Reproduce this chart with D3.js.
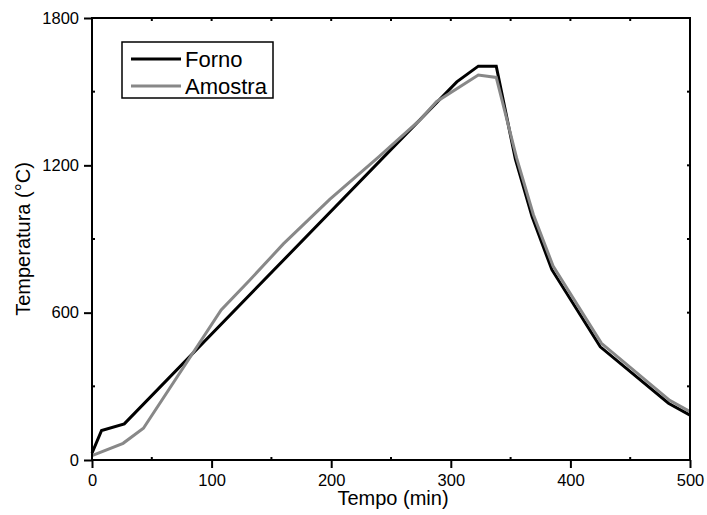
<!DOCTYPE html>
<html>
<head>
<meta charset="utf-8">
<script src="https://cdn.jsdelivr.net/npm/d3@7"></script>
<style>
  body { margin: 0; background: #fff; }
  text { font-family: "Liberation Sans", Arial, sans-serif; fill: #000; }
</style>
</head>
<body>
<div id="viz"></div>
<script>
// data
let fornoTime = [0, 8, 27, 305, 323, 338, 354, 368, 384.5, 425, 482, 500]
let fornoTemp = [28, 120, 147, 1540, 1604, 1604, 1225, 990, 775, 461, 231, 183]

let amostraTime = [0, 26, 43, 108, 132, 160, 199, 240, 274, 288, 323, 338, 355, 369, 385.5, 426, 483, 500]
let amostraTemp = [18, 68, 129, 611, 733, 880, 1062, 1235, 1384, 1459, 1568, 1558, 1230, 1000, 790, 475, 243, 197]

let xTicks = [0, 100, 200, 300, 400, 500]
let yTicks = [0, 600, 1200, 1800]
let seriesNames = ["Forno", "Amostra"]
let seriesColors = ["#000000", "#888888"]

let margin = {left: 92, right: 17, top: 18, bottom: 55}
let W = 707, H = 515
let width = W - margin.left - margin.right
let height = H - margin.top - margin.bottom

let svg = d3.select("#viz").append("svg")
    .attr("width", W).attr("height", H)

let g = svg.append("g")
    .attr("transform", "translate(" + margin.left + "," + margin.top + ")")

let xScale = d3.scaleLinear().domain([0, 500]).range([0, width])
let yScale = d3.scaleLinear().domain([0, 1800]).range([height, 0])

let forno = fornoTime.map((t, i) => ({t: t, v: fornoTemp[i]}))
let amostra = amostraTime.map((t, i) => ({t: t, v: amostraTemp[i]}))

let line = d3.line().x(d => xScale(d.t)).y(d => yScale(d.v))

// lines (forno under amostra where they overlap)
g.append("path").datum(forno)
    .attr("d", line).attr("fill", "none")
    .attr("stroke", seriesColors[0]).attr("stroke-width", 3)
g.append("path").datum(amostra)
    .attr("d", line).attr("fill", "none")
    .attr("stroke", seriesColors[1]).attr("stroke-width", 3)

// axes
let xMinor = d3.range(50, 500, 100)
let yMinor = d3.range(300, 1800, 600)

let xAxis = d3.axisBottom(xScale).tickValues(xTicks).tickFormat(d3.format("d")).tickSize(8).tickPadding(6)
let yAxis = d3.axisLeft(yScale).tickValues(yTicks).tickFormat(d3.format("d")).tickSize(8).tickPadding(5)

let gx = g.append("g").attr("transform", `translate(0,${height})`).call(xAxis)
let gy = g.append("g").call(yAxis)

;[gx, gy].forEach(a => {
    a.select(".domain").remove()
    a.selectAll("line").attr("stroke-width", 2).attr("stroke", "#000")
    a.selectAll("text").style("font-size", "16.5px").attr("fill", "#000")
})

// minor ticks (inward), top and right ticks
let tk = g.append("g").attr("stroke", "#000").attr("stroke-width", 2)
xMinor.forEach(t => {
    tk.append("line").attr("x1", xScale(t)).attr("x2", xScale(t)).attr("y1", height).attr("y2", height - 3)
})
yMinor.forEach(v => {
    tk.append("line").attr("x1", 0).attr("x2", 3).attr("y1", yScale(v)).attr("y2", yScale(v))
})
xTicks.concat(xMinor).forEach(t => {
    tk.append("line").attr("x1", xScale(t)).attr("x2", xScale(t)).attr("y1", 0).attr("y2", 3)
})
yTicks.concat(yMinor).forEach(v => {
    tk.append("line").attr("x1", width).attr("x2", width - 3).attr("y1", yScale(v)).attr("y2", yScale(v))
})

// frame
g.append("rect").attr("width", width).attr("height", height)
    .attr("fill", "none").attr("stroke", "#000").attr("stroke-width", 2)

// axis titles
svg.append("text")
    .attr("x", margin.left + width / 2 + 2).attr("y", 505)
    .attr("text-anchor", "middle").style("font-size", "20px")
    .text("Tempo (min)")

svg.append("text")
    .attr("transform", "translate(30," + (margin.top + height / 2) + ") rotate(-90)")
    .attr("text-anchor", "middle").style("font-size", "20px")
    .text("Temperatura (°C)")

// legend
let lg = svg.append("g")
lg.append("rect").attr("x", 122).attr("y", 42).attr("width", 151).attr("height", 56)
    .attr("fill", "#fff").attr("stroke", "#000").attr("stroke-width", 1.5)
seriesNames.forEach((name, i) => {
    let y = 59 + i * 27
    lg.append("line").attr("x1", 131).attr("x2", 181).attr("y1", y).attr("y2", y)
        .attr("stroke", seriesColors[i]).attr("stroke-width", 3)
    lg.append("text").attr("x", 185).attr("y", y + 8)
        .style("font-size", "22px").text(name)
})
</script>
</body>
</html>
